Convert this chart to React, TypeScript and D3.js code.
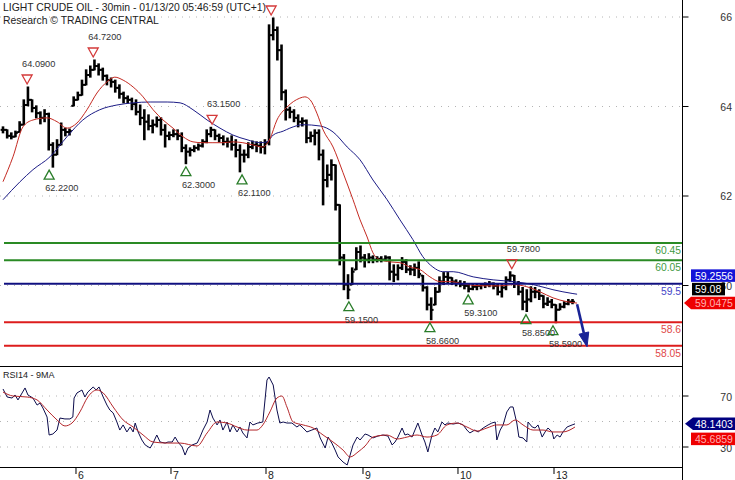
import React from 'react';
import * as d3 from 'd3';

const W = 735;
const H = 480;

const titleLine1 = 'LIGHT CRUDE OIL - 30min - 01/13/20 05:46:59 (UTC+1)';
const titleLine2 = 'Research © TRADING CENTRAL';
const rsiTitle = 'RSI14 - 9MA';

// OHLC bars (one per hour slot)
const highs = [
  63.16, 63.09, 63.02, 63.06, 63.28, 63.79, 64.09, 63.79, 63.65, 63.51,
  63.56, 63.48, 62.79, 62.86, 63.25, 63.13, 63.11, 63.86, 63.97, 64.25,
  64.49, 64.58, 64.72, 64.63, 64.53, 64.37, 64.30, 64.25, 64.14, 63.97,
  63.88, 63.83, 63.79, 63.67, 63.56, 63.44, 63.32, 63.39, 63.37, 63.21,
  63.04, 63.09, 63.09, 63.02, 62.74, 62.67, 62.72, 62.76, 62.86, 63.09,
  63.15, 63.09, 62.99, 62.95, 62.90, 62.95, 62.86, 62.74, 62.62, 62.79,
  62.83, 62.81, 62.81, 62.86, 65.54, 65.70, 65.49, 65.07, 64.02, 63.62,
  63.56, 63.44, 63.37, 63.32, 63.04, 63.09, 63.09, 62.62, 62.27, 62.39,
  62.27, 61.34, 60.18, 59.71, 59.87, 60.34, 60.38, 60.18, 60.20, 60.15,
  60.13, 60.13, 60.15, 60.13, 59.94, 59.94, 60.11, 60.06, 59.92, 59.96,
  60.01, 59.69, 59.43, 59.17, 59.41, 59.66, 59.76, 59.76, 59.64, 59.59,
  59.57, 59.55, 59.50, 59.50, 59.50, 59.50, 59.52, 59.55, 59.52, 59.50,
  59.48, 59.66, 59.78, 59.69, 59.55, 59.41, 59.36, 59.43, 59.41, 59.36,
  59.22, 59.17, 59.13, 59.01, 59.03, 59.08, 59.13, 59.13,
];
const lows = [
  63.02, 62.90, 62.88, 62.93, 63.04, 63.21, 63.65, 63.51, 63.37, 63.23,
  63.28, 62.62, 62.22, 62.51, 62.74, 62.95, 62.97, 63.65, 63.79, 63.90,
  64.14, 64.32, 64.49, 64.37, 64.25, 64.14, 64.09, 63.97, 63.83, 63.72,
  63.72, 63.56, 63.44, 63.21, 62.86, 63.09, 63.02, 63.16, 62.97, 62.69,
  62.86, 62.93, 62.86, 62.58, 62.30, 62.48, 62.58, 62.62, 62.69, 62.79,
  62.93, 62.86, 62.81, 62.74, 62.69, 62.62, 62.46, 62.11, 62.34, 62.44,
  62.65, 62.58, 62.55, 62.53, 62.74, 65.19, 64.72, 63.79, 63.32, 63.37,
  63.28, 63.16, 63.18, 62.79, 62.81, 62.74, 62.39, 61.34, 61.76, 61.92,
  61.22, 59.94, 59.36, 59.15, 59.48, 59.83, 60.01, 59.89, 59.99, 59.99,
  60.01, 60.01, 60.04, 59.59, 59.55, 59.59, 59.83, 59.76, 59.71, 59.69,
  59.64, 59.33, 58.89, 58.66, 59.01, 59.31, 59.48, 59.52, 59.48, 59.45,
  59.43, 59.38, 59.31, 59.36, 59.36, 59.38, 59.41, 59.43, 59.38, 59.24,
  59.19, 59.36, 59.55, 59.41, 59.24, 58.89, 58.85, 59.08, 59.17, 59.13,
  58.94, 58.99, 58.94, 58.59, 58.89, 58.94, 59.01, 59.03,
];
const closes = [
  63.09, 62.95, 62.93, 63.02, 63.21, 63.67, 63.79, 63.60, 63.48, 63.37,
  63.46, 62.74, 62.51, 62.74, 63.09, 63.04, 63.06, 63.79, 63.90, 64.14,
  64.37, 64.49, 64.58, 64.49, 64.35, 64.25, 64.21, 64.07, 63.93, 63.83,
  63.79, 63.69, 63.51, 63.37, 63.28, 63.18, 63.21, 63.32, 63.09, 62.95,
  62.97, 62.99, 62.95, 62.67, 62.58, 62.62, 62.67, 62.72, 62.81, 62.99,
  63.09, 62.95, 62.90, 62.81, 62.81, 62.74, 62.62, 62.51, 62.51, 62.69,
  62.74, 62.72, 62.69, 62.79, 65.30, 65.42, 64.95, 63.97, 63.56, 63.51,
  63.37, 63.28, 63.30, 62.90, 62.95, 63.02, 62.51, 61.92, 62.04, 62.27,
  61.34, 60.11, 59.48, 59.36, 59.78, 60.24, 60.11, 60.06, 60.11, 60.06,
  60.08, 60.06, 60.11, 59.78, 59.71, 59.87, 60.01, 59.83, 59.83, 59.87,
  59.73, 59.41, 59.01, 58.89, 59.31, 59.55, 59.66, 59.64, 59.55, 59.52,
  59.48, 59.45, 59.38, 59.43, 59.45, 59.48, 59.48, 59.50, 59.45, 59.31,
  59.41, 59.59, 59.69, 59.50, 59.31, 59.08, 59.13, 59.31, 59.31, 59.22,
  59.03, 59.08, 59.01, 58.89, 58.96, 59.03, 59.08, 59.08,
];

// Moving averages: [slot, value]
const redMA: [number, number][] = [
  [0, 61.88], [2.4, 62.46], [4.8, 63.16], [7.2, 63.32], [10.6, 63.37], [13, 63.28], [15.4, 63.13],
  [17.8, 63.25], [20.2, 63.56], [22.6, 63.95], [25, 64.21], [26.9, 64.32], [28.9, 64.25], [31.3, 64.09],
  [33.7, 63.86], [36.1, 63.56], [38.5, 63.32], [40.9, 63.13], [43.3, 62.93], [45.7, 62.81], [48.1, 62.79],
  [50.5, 62.79], [52.9, 62.79], [55.3, 62.81], [57.7, 62.79], [60.1, 62.74], [62.5, 62.69], [64.2, 62.88],
  [65.9, 63.32], [68.3, 63.62], [71.4, 63.83], [72.6, 63.86], [73.9, 63.79], [75.5, 63.48], [77, 63.09],
  [79.4, 62.69], [81.8, 62.09], [84.2, 61.46], [85.9, 60.99], [87.6, 60.59], [89, 60.22], [90.7, 60.06],
  [93.1, 60.01], [95.5, 59.99], [97.9, 59.89], [100.3, 59.83], [102.7, 59.66], [105.1, 59.55], [107.5, 59.55],
  [111.6, 59.48], [115.5, 59.45], [119.6, 59.45], [122.7, 59.48], [126, 59.43], [129.2, 59.31], [132.3, 59.17],
  [135.7, 59.08], [138.1, 59.0475],
];
const blueMA: [number, number][] = [
  [0, 61.46], [4.1, 61.88], [7.2, 62.16], [11.3, 62.46], [15.4, 62.93], [19.2, 63.32], [23.3, 63.56],
  [27.4, 63.67], [31.3, 63.72], [35.4, 63.74], [39.5, 63.74], [42.6, 63.72], [45.7, 63.56], [49.1, 63.32],
  [52.2, 63.13], [55.3, 62.97], [58.7, 62.86], [61.8, 62.79], [63.5, 62.81], [65, 62.97], [67.4, 63.06],
  [69, 63.13], [72.2, 63.21], [76.3, 63.18], [79.4, 63.04], [82.8, 62.69], [85.9, 62.39], [89, 61.92],
  [92.4, 61.46], [95.5, 60.99], [98.6, 60.53], [101, 60.13], [103.4, 59.89], [105.8, 59.78], [108.3, 59.78],
  [113.1, 59.66], [117.9, 59.59], [122.7, 59.55], [127.5, 59.48], [132.3, 59.36], [137.1, 59.27], [138.1, 59.2556],
];

// RSI(14) and its 9-period MA: [slot, value]
const rsi: [number, number][] = [
  [0, 75.5], [1, 69.2], [2.2, 68.4], [2.9, 70.8], [3.6, 66.9], [4.6, 72.4], [5.3, 76.3], [6, 70.8], [7.2, 68.4],
  [8.2, 62.9], [8.9, 64.5], [9.6, 60.6], [10.6, 53.5], [11.1, 39.4], [12, 40.2], [13, 43.3], [13.7, 52.7],
  [14.9, 52.0], [16.1, 52.0], [16.8, 53.5], [17.1, 68.4], [17.8, 72.4], [19, 74.7], [19.7, 69.2], [20.4, 73.1],
  [21.7, 77.1], [22.4, 74.7], [23.1, 77.1], [24.1, 69.2], [25, 62.9], [25.7, 59.0], [26.5, 56.7], [27.4, 49.6],
  [28.1, 43.3], [28.9, 47.3], [29.8, 41.8], [30.6, 45.7], [31.3, 41.8], [31.8, 48.8], [32.5, 41.8], [33.4, 35.5],
  [34.2, 31.6], [35.4, 29.2], [36.1, 33.1], [37, 39.4], [37.8, 33.9], [39, 33.1], [39.7, 33.9], [40.7, 33.9],
  [41.4, 37.8], [42.1, 33.9], [43.1, 30.0], [43.8, 23.7], [44.5, 29.2], [45.5, 31.6], [46.7, 33.1], [47.4, 37.8],
  [48.1, 43.3], [49.1, 49.6], [49.8, 59.0], [50.5, 52.7], [51.5, 47.3], [52.2, 51.2], [52.9, 43.3], [53.9, 49.6],
  [54.6, 41.8], [55.3, 47.3], [56.3, 41.8], [57, 45.7], [57.7, 41.0], [58.7, 37.1], [59.4, 49.6], [60.1, 47.3],
  [61.3, 48.8], [62.5, 49.6], [63.5, 82.5], [64, 84.9], [65, 78.6], [65.9, 59.0], [66.6, 48.8], [67.4, 49.6],
  [68.3, 48.8], [69.5, 48.8], [70.7, 45.7], [71.4, 47.3], [72.2, 44.9], [73.1, 41.8], [74.3, 43.3], [75.5, 44.9],
  [76.3, 37.1], [77.5, 29.2], [78.2, 37.8], [79.1, 33.1], [79.9, 27.6], [80.6, 22.2], [81.8, 18.2], [82.8, 15.9],
  [83.5, 23.7], [84.2, 31.6], [85.2, 37.8], [85.9, 35.5], [87.1, 40.2], [87.8, 39.4], [89, 37.1], [90.2, 38.6],
  [91.4, 39.4], [92.6, 38.6], [93.6, 31.6], [94.3, 33.9], [95, 37.8], [96, 44.9], [96.7, 39.4], [97.4, 40.2],
  [98.4, 37.8], [99.1, 43.3], [99.8, 48.8], [100.8, 39.4], [101.5, 33.9], [102.2, 26.1], [103.2, 39.4],
  [103.9, 44.9], [104.6, 41.8], [105.6, 49.6], [106.3, 47.3], [107, 48.8], [108.3, 48.0], [109.5, 48.8],
  [110.7, 47.3], [111.6, 43.3], [112.3, 41.0], [113.5, 43.3], [114.3, 41.8], [115.5, 44.9], [116.7, 47.3],
  [117.6, 48.8], [118.4, 49.6], [118.8, 35.5], [119.6, 43.3], [120.3, 47.3], [121.2, 57.5], [122, 61.4],
  [122.7, 61.4], [123.6, 48.8], [124.1, 37.8], [125.1, 37.1], [126, 33.9], [126.3, 49.6], [127.3, 45.7],
  [128, 44.9], [128.7, 47.3], [129.7, 37.8], [130.4, 41.8], [131.1, 44.9], [132.1, 41.8], [132.5, 36.3],
  [133.3, 39.4], [134, 37.8], [134.7, 41.8], [135.7, 45.7], [136.9, 47.3], [137.6, 48.1403],
];
const rsiMA: [number, number][] = [
  [0, 73.1], [2.4, 70.0], [5.8, 69.2], [8.2, 66.9], [10.6, 59.0], [13, 51.2], [14.9, 46.5], [16.6, 48.8],
  [18.5, 57.5], [20.4, 69.2], [22.6, 74.7], [24.1, 72.4], [26.5, 61.4], [28.9, 51.2], [31.3, 45.7], [33.7, 39.4],
  [36.1, 33.9], [39.5, 33.1], [42.6, 33.1], [46.7, 30.8], [49.1, 41.0], [51.5, 49.6], [53.9, 48.8], [56.3, 45.7],
  [58.7, 43.3], [61.1, 43.3], [62.5, 47.3], [64.2, 57.5], [65.9, 68.4], [67.1, 70.0], [68.3, 61.4], [69.8, 49.6],
  [72.2, 47.3], [74.6, 44.9], [77, 39.4], [79.4, 33.9], [81.8, 27.6], [83.5, 22.2], [85.4, 26.1], [87.1, 30.8],
  [89, 37.8], [92.4, 39.4], [94.8, 36.3], [97.2, 37.8], [99.6, 39.4], [102, 37.8], [104.4, 39.4], [106.8, 47.3],
  [109.2, 48.8], [111.6, 45.7], [114, 42.5], [116.4, 44.9], [118.8, 47.3], [121.2, 47.3], [123.2, 51.2],
  [125.1, 47.3], [127.5, 43.3], [129.9, 43.3], [132.3, 41.8], [134.7, 41.8], [137.6, 45.6859],
];

// Support / resistance levels
const levelValues = [60.45, 60.05, 59.5, 58.6, 58.05];
const levelLabels = ['60.45', '60.05', '59.5', '58.6', '58.05'];
const levelKinds = ['res', 'res', 'pivot', 'sup', 'sup'];

// Swing markers
const markerSlots = [5.8, 21.7, 11.1, 50.3, 44.0, 57.5, 64.5, 83.2, 102.7, 111.9, 122.4, 125.8, 132.3];
const markerPrices = [64.09, 64.72, 62.22, 63.15, 62.30, 62.11, 65.70, 59.15, 58.66, 59.31, 59.78, 58.85, 58.59];
const markerKinds = ['H', 'H', 'L', 'H', 'L', 'L', 'H', 'L', 'L', 'L', 'H', 'L', 'L'];
const markerLabels = ['64.0900', '64.7200', '62.2200', '63.1500', '62.3000', '62.1100', '', '59.1500', '58.6600', '59.3100', '59.7800', '58.8500', '58.5900'];

// Projection arrow [slot, price]
const arrowFrom: [number, number] = [138.1, 59.02];
const arrowTo: [number, number] = [140.5, 58.03];

// Axis ticks
const priceTicks = [66, 64, 62, 60];
const rsiTicks = [70, 30];
const rsiGrid = [70, 50, 30];
const dayLabels = ['6', '7', '8', '9', '10', '13'];
const daySlots = [17.56, 40.41, 63.27, 86.6, 109.45, 132.55];

// Last values
const lastBlueMA = 59.2556;
const lastClose = 59.08;
const lastRedMA = 59.0475;
const lastRsi = 48.1403;
const lastRsiMA = 45.6859;

const FONT = "'Liberation Sans', Arial, sans-serif";
const AXIS_X = 682.5;

export default function App() {
  const x = d3.scaleLinear().domain([0, 138]).range([3, 3 + 138 * 4.157]);
  const y = d3.scaleLinear().domain([57.58, 66.12]).range([366, 0]);
  const yAxis = d3.scaleLinear().domain([66, 60]).range([17, 285.5]);
  const yR = d3.scaleLinear().domain([70, 30]).range([396, 447]);

  const maLine = d3.line<[number, number]>().x(d => x(d[0])).y(d => y(d[1])).curve(d3.curveMonotoneX);
  const rsiLine = d3.line<[number, number]>().x(d => x(d[0])).y(d => yR(d[1]));
  const rsiMaLine = d3.line<[number, number]>().x(d => x(d[0])).y(d => yR(d[1])).curve(d3.curveMonotoneX);

  const levelColor = (k: string) => (k === 'res' ? '#2a8a24' : k === 'pivot' ? '#101080' : '#dd1c1c');
  const levelText = (k: string) => (k === 'res' ? '#3f9a3f' : k === 'pivot' ? '#4646c8' : '#e04848');

  const ax1 = x(arrowFrom[0]), ay1 = y(arrowFrom[1]);
  const ax2 = x(arrowTo[0]), ay2 = y(arrowTo[1]);
  const len = Math.hypot(ax2 - ax1, ay2 - ay1);
  const ux = (ax2 - ax1) / len, uy = (ay2 - ay1) / len;
  const bx = ax2 - ux * 14, by = ay2 - uy * 14;
  const px = -uy * 5, py = ux * 5;

  const redBoxC = y(lastRedMA);
  const blackBoxC = redBoxC - 14;
  const blueBoxC = blackBoxC - 13.5;
  const rsiBoxC = yR(lastRsi);
  const rsiMaBoxC = rsiBoxC + 15;
  const bh = 12.5;

  return (
    <svg width={W} height={H} style={{ position: 'absolute', left: 0, top: 0, background: '#fff' }} fontFamily={FONT}>
      <rect x={0} y={0} width={W} height={H} fill="#fff" />
      <defs>
        <clipPath id="mainClip"><rect x={0} y={0} width={AXIS_X} height={366} /></clipPath>
        <clipPath id="rsiClip"><rect x={0} y={367} width={AXIS_X} height={100} /></clipPath>
      </defs>

      {priceTicks.map(t => (
        <line key={'g' + t} x1={0} x2={AXIS_X} y1={yAxis(t)} y2={yAxis(t)} stroke="#b4b4b4" strokeWidth={1} strokeDasharray="1,6" />
      ))}
      {rsiGrid.map(t => (
        <line key={'rg' + t} x1={0} x2={AXIS_X} y1={yR(t)} y2={yR(t)} stroke="#b4b4b4" strokeWidth={1} strokeDasharray="1,6" />
      ))}

      <text x={3} y={11} fontSize={10.4} fill="#222">{titleLine1}</text>
      <text x={3} y={24} fontSize={10.4} fill="#222">{titleLine2}</text>

      <g clipPath="url(#mainClip)">
        {closes.map((c, i) => {
          const hi = highs[i], lo = lows[i];
          const prev = i === 0 ? c : closes[i - 1];
          const o = Math.min(hi, Math.max(lo, prev));
          const cx = x(i);
          const yh = y(hi) - 0.5, yl = Math.max(y(lo) + 0.5, y(hi) + 1.5);
          return (
            <g key={'b' + i} stroke="#000">
              <line x1={cx} x2={cx} y1={yh} y2={yl} strokeWidth={2.6} />
              <line x1={cx - 2.4} x2={cx} y1={y(o)} y2={y(o)} strokeWidth={2} />
              <line x1={cx} x2={cx + 2.4} y1={y(c)} y2={y(c)} strokeWidth={2} />
            </g>
          );
        })}
        <path d={maLine(blueMA) || ''} fill="none" stroke="#1c1c86" strokeWidth={1} />
        <path d={maLine(redMA) || ''} fill="none" stroke="#c42a22" strokeWidth={1} />

        {levelValues.map((v, i) => (
          <line key={'l' + i} x1={4} x2={AXIS_X} y1={y(v)} y2={y(v)} stroke={levelColor(levelKinds[i])} strokeWidth={2} />
        ))}
        {levelValues.map((v, i) => (
          <text key={'lt' + i} x={681} y={y(v) + 11} fontSize={10.3} textAnchor="end" fill={levelText(levelKinds[i])}>{levelLabels[i]}</text>
        ))}

        {markerSlots.map((s, i) => {
          const cx = x(s);
          const py0 = y(markerPrices[i]);
          if (markerKinds[i] === 'H') {
            const top = py0 - 12;
            return (
              <g key={'m' + i}>
                <polygon points={`${cx - 5},${top} ${cx + 5},${top} ${cx},${top + 9}`} fill="none" stroke="#d43a3a" strokeWidth={1.3} />
                {markerLabels[i] && <text x={cx - 5} y={py0 - 20} fontSize={9.2} fill="#333">{markerLabels[i]}</text>}
              </g>
            );
          }
          const apex = py0 + 3;
          return (
            <g key={'m' + i}>
              <polygon points={`${cx},${apex} ${cx + 5},${apex + 9} ${cx - 5},${apex + 9}`} fill="none" stroke="#2a7d2a" strokeWidth={1.3} />
              {markerLabels[i] && <text x={cx - 4} y={py0 + 24} fontSize={9.2} fill="#333">{markerLabels[i]}</text>}
            </g>
          );
        })}

        <line x1={ax1} y1={ay1} x2={bx} y2={by} stroke="#1a2496" strokeWidth={2.6} />
        <polygon points={`${ax2},${ay2} ${bx + px},${by + py} ${bx - px},${by - py}`} fill="#1a2496" stroke="#1a2496" strokeWidth={1} />
      </g>

      <text x={3} y={378} fontSize={9} fill="#222">{rsiTitle}</text>
      <g clipPath="url(#rsiClip)">
        <path d={rsiLine(rsi) || ''} fill="none" stroke="#0c0c4c" strokeWidth={1} />
        <path d={rsiMaLine(rsiMA) || ''} fill="none" stroke="#b3262a" strokeWidth={1} />
      </g>

      <line x1={0} x2={AXIS_X} y1={366.5} y2={366.5} stroke="#000" strokeWidth={1} />
      <line x1={0} x2={AXIS_X} y1={467.5} y2={467.5} stroke="#000" strokeWidth={1} />
      <line x1={AXIS_X} x2={AXIS_X} y1={0} y2={H} stroke="#000" strokeWidth={1} />

      {priceTicks.map(t => (
        <g key={'pt' + t}>
          <line x1={AXIS_X} x2={AXIS_X + 6} y1={yAxis(t)} y2={yAxis(t)} stroke="#000" />
          <text x={732} y={yAxis(t) + 4} fontSize={10.5} textAnchor="end" fill="#333">{t}</text>
        </g>
      ))}
      {rsiTicks.map(t => (
        <g key={'rt' + t}>
          <line x1={AXIS_X} x2={AXIS_X + 6} y1={yR(t)} y2={yR(t)} stroke="#000" />
          <text x={732} y={yR(t) + 4.5} fontSize={10.5} textAnchor="end" fill="#333">{t}</text>
        </g>
      ))}

      {daySlots.map((s, i) => (
        <g key={'d' + i}>
          <line x1={x(s)} x2={x(s)} y1={467} y2={474} stroke="#000" />
          <text x={x(s) + 2} y={479} fontSize={10.5} fill="#222">{dayLabels[i]}</text>
        </g>
      ))}

      <rect x={691} y={blueBoxC - bh / 2} width={44} height={bh} fill="#1414d8" />
      <text x={695} y={blueBoxC + 4} fontSize={10.5} fill="#fff">{lastBlueMA.toFixed(4)}</text>
      <rect x={692} y={blackBoxC - bh / 2} width={33} height={bh} fill="#000" />
      <text x={695} y={blackBoxC + 4} fontSize={10.5} fill="#fff">{lastClose.toFixed(2)}</text>
      <polygon points={`684,${redBoxC} 691,${redBoxC - bh / 2} 735,${redBoxC - bh / 2} 735,${redBoxC + bh / 2} 691,${redBoxC + bh / 2}`} fill="#ee0000" />
      <text x={695} y={redBoxC + 4} fontSize={10.5} fill="#ffb0b0">{lastRedMA.toFixed(4)}</text>

      <polygon points={`685,${rsiBoxC} 693,${rsiBoxC - bh / 2} 735,${rsiBoxC - bh / 2} 735,${rsiBoxC + bh / 2} 693,${rsiBoxC + bh / 2}`} fill="#000080" />
      <text x={695} y={rsiBoxC + 4} fontSize={10.5} fill="#fff">{lastRsi.toFixed(4)}</text>
      <rect x={691} y={rsiMaBoxC - bh / 2} width={44} height={bh} fill="#ee0000" />
      <text x={695} y={rsiMaBoxC + 4} fontSize={10.5} fill="#ffb0b0">{lastRsiMA.toFixed(4)}</text>
    </svg>
  );
}
